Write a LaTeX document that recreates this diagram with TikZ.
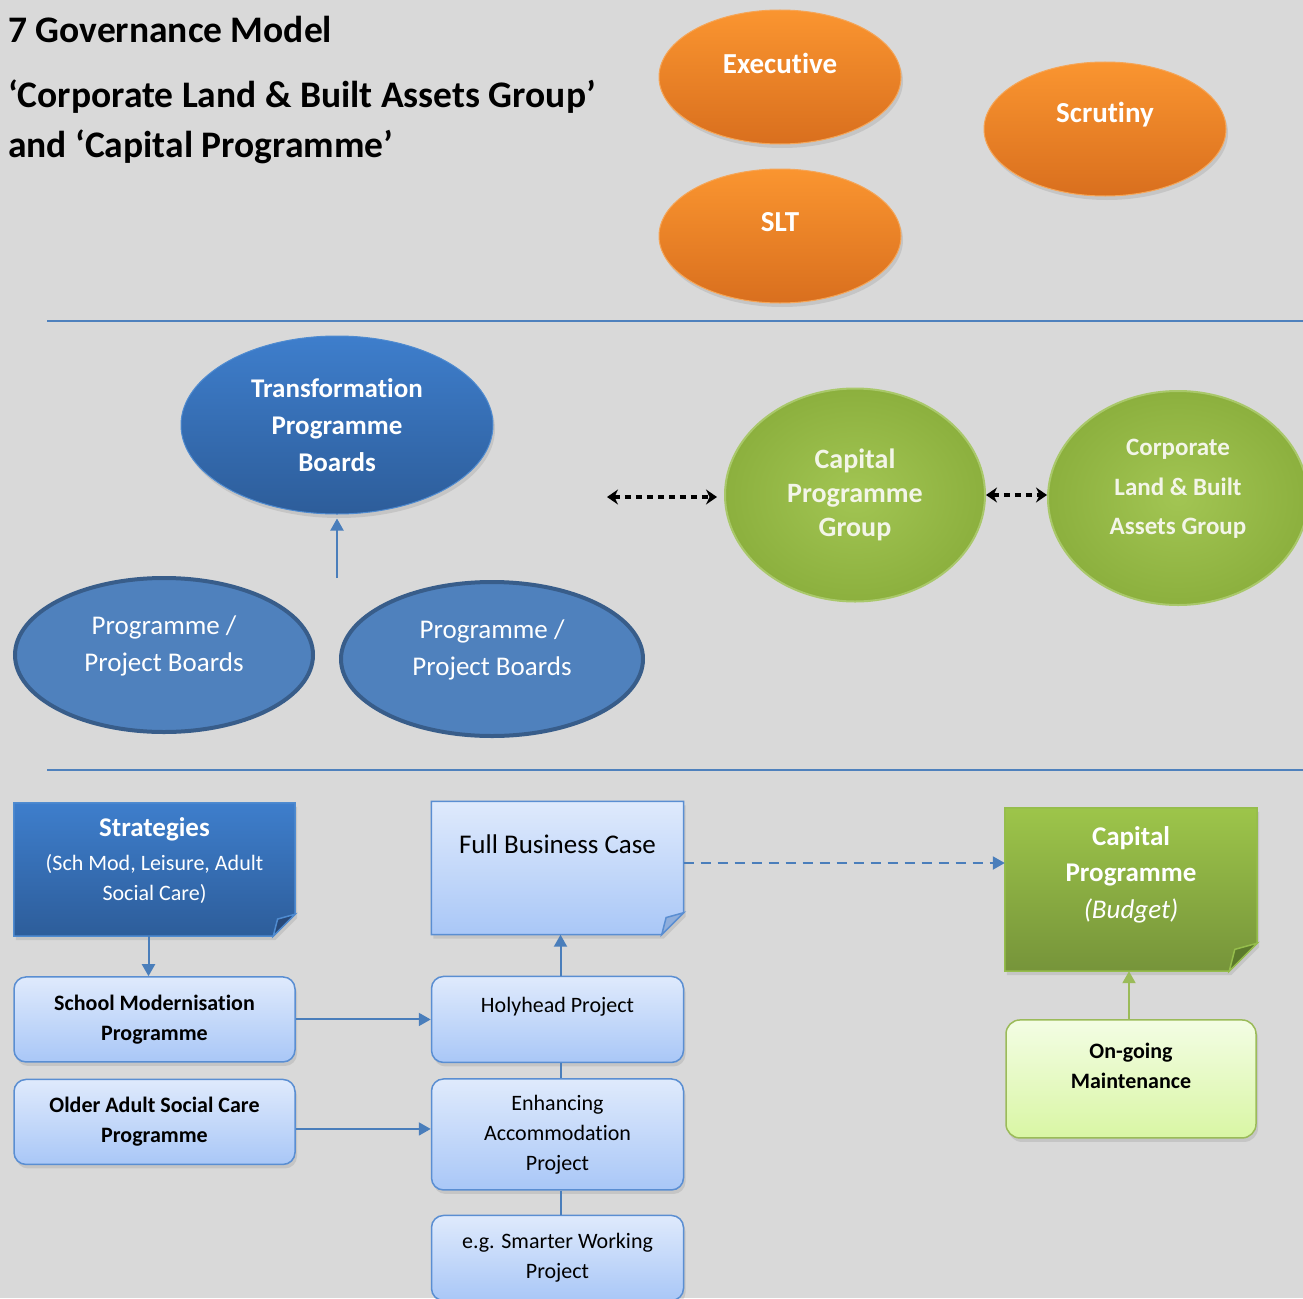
\documentclass[tikz,border=0pt]{standalone}
\usepackage{fontspec}
\setmainfont{Carlito}[Ligatures=NoCommon]
\usepackage{xcolor}
\usetikzlibrary{arrows.meta, positioning, shapes.geometric, shadows}

\definecolor{canvas}{HTML}{D9D9D9}
\definecolor{rulecol}{HTML}{4F81BD}
\definecolor{arrowblue}{HTML}{4A7EBB}
\definecolor{orangetop}{HTML}{FA9530}
\definecolor{orangebot}{HTML}{D96F1E}
\definecolor{orangeedge}{HTML}{F5A557}
\definecolor{bluetop}{HTML}{3E7ECC}
\definecolor{bluebot}{HTML}{2D5D9A}
\definecolor{blueedge}{HTML}{4F8BD0}
\definecolor{boardfill}{HTML}{4F81BD}
\definecolor{boardedge}{HTML}{385D8A}
\definecolor{greenin}{HTML}{A2C553}
\definecolor{greenout}{HTML}{8CB03E}
\definecolor{greenedge}{HTML}{A9C86A}
\definecolor{greentext}{HTML}{F3F5E8}
\definecolor{paletop}{HTML}{DFEAFC}
\definecolor{palebot}{HTML}{A9C7F7}
\definecolor{paleedge}{HTML}{5A8ED2}
\definecolor{stratcrease}{HTML}{27497A}
\definecolor{fbccrease}{HTML}{8FAEDC}
\definecolor{budtop}{HTML}{9DC54A}
\definecolor{budbot}{HTML}{76943A}
\definecolor{budedge}{HTML}{95BD4C}
\definecolor{budcrease}{HTML}{5C7A2C}
\definecolor{limetop}{HTML}{F3FDE4}
\definecolor{limebot}{HTML}{D9F6A4}
\definecolor{limeedge}{HTML}{9BBB59}

\pgfdeclarelayer{back}
\pgfsetlayers{back,main}

% sheet with a turned-up corner, drawn behind node #1
\newcommand{\foldedbox}[4]{%
  \begin{pgfonlayer}{back}
    \path[#2] (#1.north west) -- (#1.north east) -- ([yshift=#4]#1.south east)
      -- ([xshift=-#4]#1.south east) -- (#1.south west) -- cycle;
    \filldraw[#3] ([yshift=#4]#1.south east) -- ([xshift=-#4]#1.south east)
      -- ([xshift=-0.8*#4, yshift=0.78*#4]#1.south east) -- cycle;
  \end{pgfonlayer}}

\begin{document}
\begin{tikzpicture}[
    x=1pt, y=-1pt,
    every node/.style={inner sep=0pt},
    title/.style={anchor=base west, font=\bfseries\fontsize{37.5}{44}\selectfont},
    softshadow/.style={drop shadow={opacity=0.22, shadow xshift=2pt, shadow yshift=-4pt}},
    divider/.style={draw=rulecol, line width=1.5pt},
    orangeball/.style={ellipse, softshadow, minimum width=242pt, minimum height=134pt,
                       top color=orangetop, bottom color=orangebot, draw=orangeedge, line width=1pt},
    balltext/.style={yshift=14pt, text=white, font=\bfseries\fontsize{29}{35}\selectfont},
    transball/.style={ellipse, softshadow, minimum width=312pt, minimum height=178pt,
                      top color=bluetop, bottom color=bluebot, draw=blueedge, line width=1pt,
                      align=center, text=white, font=\bfseries\fontsize{27}{37}\selectfont},
    board/.style={ellipse, minimum width=298pt, minimum height=154pt,
                  fill=boardfill, draw=boardedge, line width=4pt},
    boardtext/.style={yshift=9pt, align=center, text=white, font=\fontsize{27}{37}\selectfont},
    greenball/.style={ellipse, minimum width=260pt, minimum height=213pt,
                      inner color=greenin, outer color=greenout, draw=greenedge, line width=2pt,
                      align=center, text=greentext, font=\bfseries\fontsize{28}{34}\selectfont},
    greentxt/.style={yshift=9pt, align=center, text=greentext, font=\bfseries\fontsize{25}{39.5}\selectfont},
    palebox/.style={rectangle, rounded corners=12pt, softshadow, minimum width=252pt,
                    top color=paletop, bottom color=palebot, draw=paleedge, line width=1.5pt,
                    align=center, font=\fontsize{22}{30}\selectfont},
    progbox/.style={palebox, minimum width=281pt, minimum height=85pt,
                    font=\bfseries\fontsize{22}{30}\selectfont},
    paletext/.style={align=center, font=\fontsize{22}{30}\selectfont},
    foldnode/.style={rectangle, minimum width=252pt},
    stratfill/.style={softshadow, top color=bluetop, bottom color=bluebot, draw=blueedge, line width=1.5pt},
    stratfold/.style={fill=stratcrease, draw=blueedge, line width=1.5pt},
    strattext/.style={yshift=9pt, align=center, text=white, font=\fontsize{22}{30}\selectfont},
    fbcfill/.style={softshadow, top color=paletop, bottom color=palebot, draw=paleedge, line width=1.5pt},
    fbcfold/.style={fill=fbccrease, draw=paleedge, line width=1.5pt},
    fbctext/.style={yshift=23.5pt, font=\fontsize{27}{33}\selectfont},
    budfill/.style={softshadow, top color=budtop, bottom color=budbot, draw=budedge, line width=1.5pt},
    budfold/.style={fill=budcrease, draw=budedge, line width=1.5pt},
    budtext/.style={yshift=15pt, align=center, text=white, font=\bfseries\fontsize{27}{36.5}\selectfont},
    limebox/.style={rectangle, rounded corners=14pt, softshadow, minimum width=250pt, minimum height=118pt,
                    top color=limetop, bottom color=limebot, draw=limeedge, line width=1.5pt},
    limetext/.style={yshift=13pt, align=center, font=\bfseries\fontsize{22}{30}\selectfont},
    arrow/.style={-{Triangle[length=12pt, width=13pt]}, draw=arrowblue, line width=2pt},
    link/.style={draw=arrowblue, line width=2pt},
    greenarrow/.style={-{Triangle[length=12pt, width=13pt]}, draw=limeedge, line width=2pt},
    duplex/.style={{Stealth[length=11pt, width=15pt]}-{Stealth[length=11pt, width=15pt]},
                   line width=3.5pt, dash pattern=on 6pt off 5pt},
]
    \useasboundingbox (0,0) rectangle (1303,1298);
    \begin{pgfonlayer}{back}
        \fill[canvas] (0,0) rectangle (1303,1298);
    \end{pgfonlayer}

    % Heading
    \node[title] (head) at (8,43) {7 Governance Model};
    \node[title] (grouptitle) at (8,107) {‘Corporate Land \& Built Assets Group’};
    \node[title] (progtitle) at (8,157) {and ‘Capital Programme’};

    % Tier 1 - members
    \node[orangeball, label={[balltext]center:Executive}] (exec) at (780,77) {};
    \node[orangeball, label={[balltext]center:SLT}] (slt) at (780,236) {};
    \node[orangeball, label={[balltext]center:Scrutiny}] (scrutiny) at (1105,129) {};

    \draw[divider] (47,321) -- (1303,321);
    \draw[divider] (47,770) -- (1303,770);

    % Tier 2 - boards and groups
    \node[transball] (tpb) at (337,425) {Transformation\\Programme\\Boards};
    \node[board, label={[boardtext]center:Programme /\\Project Boards}] (boardA) at (164,655) {};
    \node[board, minimum width=302pt, label={[boardtext]center:Programme /\\Project Boards}] (boardB) at (492,659) {};
    \coordinate (boardsup) at (337,578);

    \node[greenball] (cpg) at (855,495) {Capital\\Programme\\Group};
    \node[greenball, minimum height=214pt,
          label={[greentxt]center:Corporate\\Land \& Built\\Assets Group}] (clb) at (1178,498) {};
    \coordinate (cpglink) at (607,497);

    % Tier 3 - programmes and projects
    \node[foldnode, minimum width=281pt, minimum height=133pt,
          label={[strattext]center:{\fontsize{27}{30}\selectfont\bfseries Strategies}\\[4pt](Sch Mod, Leisure, Adult\\Social Care)}]
          (strat) at (154.5,869.5) {};
    \foldedbox{strat}{stratfill}{stratfold}{22pt}

    \node[progbox, below=40pt of strat] (school) {School Modernisation\\Programme};
    \node[progbox, below=16pt of school] (older) {Older Adult Social Care\\Programme};

    \node[palebox, minimum height=86pt, right=135pt of school,
          label={[paletext, yshift=13pt]center:Holyhead Project}] (holy) {};
    \node[palebox, minimum height=111pt, below=15pt of holy] (enh) {Enhancing\\Accommodation\\Project};
    \node[palebox, minimum height=85pt, below=24pt of enh] (smart) {e.g. Smarter Working\\Project};

    \node[foldnode, minimum height=133pt, above=41pt of holy,
          label={[fbctext]center:Full Business Case}] (fbc) {};
    \foldedbox{fbc}{fbcfill}{fbcfold}{22pt}

    \node[foldnode, minimum height=163pt,
          label={[budtext]center:Capital\\Programme\\{\mdseries\itshape (Budget)}}] (capbud) at (1131,889.5) {};
    \foldedbox{capbud}{budfill}{budfold}{28pt}

    \node[limebox, below=48pt of capbud, label={[limetext]center:On-going\\Maintenance}] (ongoing) {};

    % Connectors
    \draw[arrow, shorten >=4pt] (boardsup) -- (tpb.south);
    \draw[duplex, shorten >=7pt] (cpglink) -- (cpglink -| cpg.west);
    \draw[duplex] (cpg.east) -- (cpg.east -| clb.west);
    \draw[arrow] ([xshift=-6pt]strat.south) -- ([xshift=-6pt]strat.south |- school.north);
    \draw[arrow] (school.east) -- (school.east -| holy.west);
    \draw[arrow] ([yshift=-7pt]older.east) -- ([yshift=-7pt]older.east -| enh.west);
    \draw[arrow] ([xshift=3pt]holy.north) -- ([xshift=3pt]holy.north |- fbc.south);
    \draw[link] ([xshift=3pt]holy.south) -- ([xshift=3pt]holy.south |- enh.north);
    \draw[link] ([xshift=3pt]enh.south) -- ([xshift=3pt]enh.south |- smart.north);
    \draw[arrow, dash pattern=on 10pt off 7pt] ([yshift=5pt]fbc.east) -- ([yshift=5pt]fbc.east -| capbud.west);
    \draw[greenarrow] ([xshift=-2pt]ongoing.north) -- ([xshift=-2pt]ongoing.north |- capbud.south);
\end{tikzpicture}
\end{document}
